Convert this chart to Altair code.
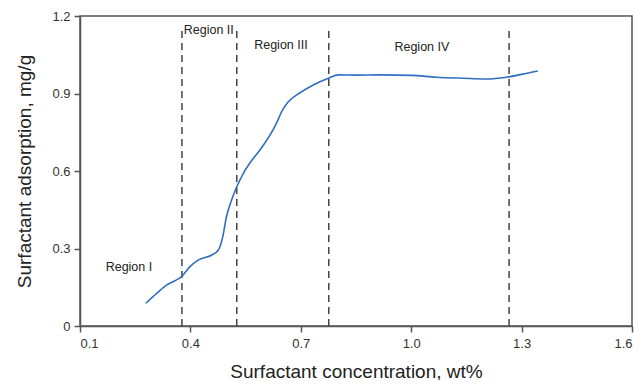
import altair as alt
import pandas as pd

conc = [0.279, 0.31, 0.336, 0.358, 0.376, 0.399, 0.421, 0.458, 0.476, 0.488, 0.498, 0.512, 0.526, 0.544,
        0.571, 0.589, 0.634, 0.648, 0.665, 0.698, 0.734, 0.775, 0.802, 0.85, 0.915, 1.0, 1.069, 1.14, 1.205, 1.259, 1.30, 1.344]
ads = [0.088, 0.128, 0.159, 0.175, 0.191, 0.230, 0.255, 0.275, 0.294, 0.346, 0.423, 0.488, 0.539, 0.591,
       0.649, 0.681, 0.785, 0.830, 0.866, 0.903, 0.933, 0.959, 0.972, 0.971, 0.972, 0.97, 0.963, 0.959, 0.956, 0.963, 0.974, 0.987]

region_x = [0.377, 0.526, 0.776, 1.266]
label_text = ["Region I", "Region II", "Region III", "Region IV"]
label_x = [0.233, 0.382, 0.646, 1.029]
label_y = [0.228, 1.146, 1.088, 1.08]
label_align = ["center", "left", "center", "center"]

curve = pd.DataFrame({"x": conc, "y": ads})
rules = pd.DataFrame({"x": region_x, "y": [0] * 4, "y2": [1.16] * 4})
labels = pd.DataFrame({"x": label_x, "y": label_y, "t": label_text, "a": label_align})

xs = alt.Scale(domain=[0.1, 1.6], nice=False, zero=False)
ys = alt.Scale(domain=[0, 1.2], nice=False)

line = alt.Chart(curve).mark_line(color="#2f6fc0", strokeWidth=1.6, interpolate="monotone").encode(
    x=alt.X("x:Q", scale=xs, title="Surfactant concentration, wt%",
            axis=alt.Axis(values=[0.1, 0.4, 0.7, 1.0, 1.3, 1.6], format=".1f")),
    y=alt.Y("y:Q", scale=ys, title="Surfactant adsorption, mg/g",
            axis=alt.Axis(values=[0, 0.3, 0.6, 0.9, 1.2], labelExpr="datum.value == 0 ? '0' : format(datum.value, '.1f')")),
)

dash = alt.Chart(rules).mark_rule(color="#444444", strokeWidth=1.5, strokeDash=[7, 5]).encode(
    x="x:Q", y="y:Q", y2="y2:Q"
)

txt_c = alt.Chart(labels[labels.a == "center"]).mark_text(
    font="Liberation Sans", fontSize=12.5, color="#222222", align="center", baseline="middle"
).encode(x="x:Q", y="y:Q", text="t:N")
txt_l = alt.Chart(labels[labels.a == "left"]).mark_text(
    font="Liberation Sans", fontSize=12.5, color="#222222", align="left", baseline="middle"
).encode(x="x:Q", y="y:Q", text="t:N")

chart = alt.layer(dash, line, txt_c, txt_l).properties(
    width=552, height=310,
    autosize=alt.AutoSizeParams(type="none"),
    padding={"left": 72, "top": 8, "right": 2, "bottom": 54},
).configure_view(
    stroke="#555555", strokeWidth=1.5
).configure_axis(
    grid=False, domainColor="#555555", domainWidth=1.5, tickColor="#555555", tickWidth=1.5,
    tickSize=6, labelFont="Liberation Sans", labelFontSize=13, labelColor="#333333",
    titleFont="Liberation Sans", titleFontSize=19, titleFontWeight="normal", titleColor="#222222",
).configure_axisX(
    labelPadding=5, titlePadding=12
).configure_axisY(
    labelPadding=4, titlePadding=17
)

chart.save("out.html", embed_options={"renderer": "svg", "actions": False})
